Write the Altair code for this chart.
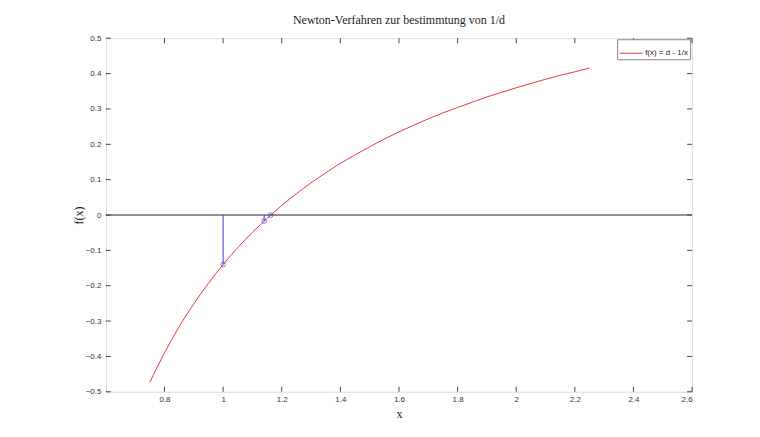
import altair as alt
import pandas as pd

# Curve samples
curve_x = [0.75, 0.80, 0.85, 0.90, 0.95, 1.00, 1.05, 1.10, 1.15, 1.20, 1.25, 1.30,
           1.35, 1.40, 1.45, 1.50, 1.55, 1.60, 1.65, 1.70, 1.75, 1.80, 1.85, 1.90,
           1.95, 2.00, 2.05, 2.10, 2.15, 2.20, 2.25]
curve_y = [-0.473, -0.39, -0.316, -0.251, -0.193, -0.14, -0.092, -0.049, -0.01, 0.027,
           0.06, 0.091, 0.119, 0.146, 0.170, 0.193, 0.215, 0.235, 0.254, 0.272, 0.289,
           0.304, 0.319, 0.334, 0.347, 0.36, 0.372, 0.384, 0.395, 0.405, 0.416]
series_name = "f(x) = d - 1/x"

# Newton iterates
iter_x = [1.0, 1.14, 1.1623]
iter_y = [-0.14, -0.017, -0.0004]

x_ticks = [0.8, 1.0, 1.2, 1.4, 1.6, 1.8, 2.0, 2.2, 2.4, 2.6]
y_ticks = [-0.5, -0.4, -0.3, -0.2, -0.1, 0.0, 0.1, 0.2, 0.3, 0.4, 0.5]

W, H = 587, 354

curve_df = pd.DataFrame({"x": curve_x, "y": curve_y, "s": [series_name] * len(curve_x)})
iter_df = pd.DataFrame({"x": iter_x, "y": iter_y, "y0": [0.0] * len(iter_x)})
xt_df = pd.DataFrame({"x": x_ticks})
yt_df = pd.DataFrame({"y": y_ticks})

xs = alt.Scale(domain=[0.6, 2.6], nice=False, zero=False)
ys = alt.Scale(domain=[-0.5, 0.5], nice=False, zero=False)

label_font = "Liberation Sans"
serif = "Liberation Serif"

xaxis = alt.Axis(values=x_ticks, ticks=False, domain=False, grid=False, labelOverlap=False,
                 labelFontSize=8, labelColor="#333", labelFont=label_font, labelPadding=4,
                 title="x", titleFont=serif, titleFontSize=12, titleFontWeight="normal",
                 titleColor="#222", titleX=W / 2, titleY=22, titleBaseline="middle",
                 labelExpr="datum.value == 1 ? '1' : datum.value == 2 ? '2' : format(datum.value, '.1f')")
yaxis = alt.Axis(values=y_ticks, ticks=False, domain=False, grid=False, labelOverlap=False,
                 labelFontSize=8, labelColor="#333", labelFont=label_font, labelPadding=5,
                 title="f(x)", titleFont=serif, titleFontSize=12, titleFontWeight="normal",
                 titleColor="#222", titleX=-27, titleY=H / 2, titleBaseline="middle",
                 titleAlign="center", titleAngle=-90,
                 labelExpr="abs(datum.value) < 1e-9 ? '0' : format(datum.value, '.1f')")


def X(field):
    return alt.X(field, type="quantitative", scale=xs, axis=xaxis, title="x")


def Y(field):
    return alt.Y(field, type="quantitative", scale=ys, axis=yaxis, title="f(x)")


curve = alt.Chart(curve_df).mark_line(strokeWidth=1, interpolate="monotone").encode(
    x=X("x"),
    y=Y("y"),
    color=alt.Color("s:N", scale=alt.Scale(range=["#e8383a"]),
                    legend=alt.Legend(title=None, orient="none", legendX=512, legendY=1,
                                      symbolType="stroke", symbolSize=529, symbolStrokeWidth=1,
                                      labelFontSize=8, labelFont=label_font, labelColor="#222",
                                      fillColor="white", strokeColor="#888", padding=2,
                                      labelOffset=2)),
)

zero = alt.Chart(pd.DataFrame({"y": [0.0]})).mark_rule(color="#222", strokeWidth=1).encode(
    y=Y("y"), x=alt.value(0), x2=alt.value(W))

vlines = alt.Chart(iter_df).mark_rule(color="#3a3ad0", strokeWidth=1).encode(
    x=X("x"), y=Y("y0"), y2="y:Q")

pts = alt.Chart(iter_df).mark_point(shape="circle", size=22, color="#3a3ad0",
                                    strokeWidth=1, filled=False).encode(
    x=X("x"), y=Y("y"))

tick_col = "#444"
xb = alt.Chart(xt_df).mark_rule(color=tick_col).encode(
    x=X("x"), y=alt.value(H), y2=alt.value(H - 5))
xtp = alt.Chart(xt_df).mark_rule(color=tick_col).encode(
    x=X("x"), y=alt.value(0), y2=alt.value(5))
yl = alt.Chart(yt_df).mark_rule(color=tick_col).encode(
    y=Y("y"), x=alt.value(0), x2=alt.value(5))
yr = alt.Chart(yt_df).mark_rule(color=tick_col).encode(
    y=Y("y"), x=alt.value(W), x2=alt.value(W - 5))

chart = alt.layer(curve, zero, vlines, pts, xb, xtp, yl, yr).properties(
    width=W, height=H,
    title=alt.TitleParams("Newton-Verfahren zur bestimmtung von 1/d", font=serif,
                          fontSize=12, fontWeight="normal", color="#222", offset=7),
    autosize="none",
    padding={"left": 98, "top": 30, "right": 60, "bottom": 37},
).configure_view(stroke="#555", strokeWidth=1).configure(background="white")

chart.save("out.html", embed_options={"renderer": "svg", "actions": False})
